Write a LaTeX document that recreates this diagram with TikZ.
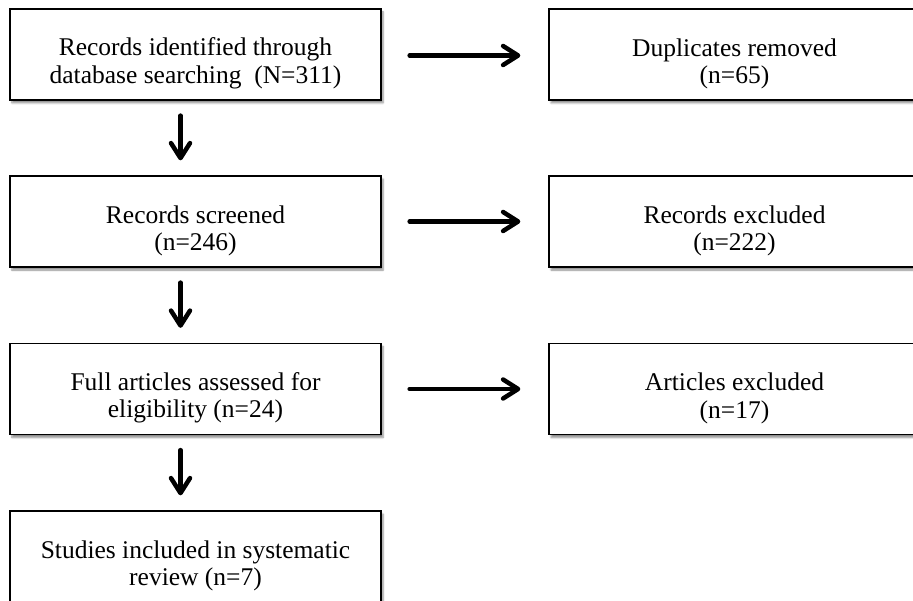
\documentclass[tikz,border=0pt]{standalone}
\usepackage{fontspec}
\setmainfont{Liberation Serif}
\usetikzlibrary{arrows.meta,shadows.blur}

% the text sits low in every box
\newcommand{\lowtext}{\rule{0pt}{36pt}}

\begin{document}
\begin{tikzpicture}[x=1pt,y=-1pt,
    box/.style={draw, line width=1.3pt, fill=white, minimum width=371pt,
      minimum height=91pt, align=center, inner sep=0pt,
      font=\fontsize{25.5}{27.5}\selectfont,
      blur shadow={shadow xshift=2pt, shadow yshift=-3pt,
        shadow blur steps=6, shadow blur extra rounding=0pt, shadow opacity=45}},
    flow/.style={line width=4.5pt, line cap=round,
      -{Straight Barb[length=15pt, width=19pt, round]}}]

    % page frame, as the reference is cropped right and bottom
    \useasboundingbox (0,0) rectangle (913,601);
    \clip (0,0) rectangle (913,601);

    % main column
    \node[box] (ident)  at (195.5,54.5) {\lowtext Records identified through\\database searching\ \ (N=311)};
    \node[box] (screen) at (195.5,221.5) {\lowtext Records screened\\(n=246)};
    \node[box] (full)   at (195.5,389) {\lowtext Full articles assessed for\\eligibility (n=24)};
    \node[box] (incl)   at (195.5,556.5) {\lowtext Studies included in systematic\\review (n=7)};

    % exclusions on the right
    \node[box] (dupl)   at (734.5,54.5) {\lowtext Duplicates removed\\(n=65)};
    \node[box] (recex)  at (734.5,221.5) {\lowtext Records excluded\\(n=222)};
    \node[box] (artex)  at (734.5,389) {\lowtext Articles excluded\\(n=17)};

    % down the column
    \draw[flow, shorten <=15pt, shorten >=15pt] ([xshift=-15pt]ident.south) -- ([xshift=-15pt]screen.north);
    \draw[flow, shorten <=15pt, shorten >=15pt] ([xshift=-15pt]screen.south) -- ([xshift=-15pt]full.north);
    \draw[flow, shorten <=15pt, shorten >=15pt] ([xshift=-15pt]full.south) -- ([xshift=-15pt]incl.north);

    % across to the exclusions
    \draw[flow, shorten <=28pt, shorten >=28pt] ([yshift=-1pt]ident.east) -- ([yshift=-1pt]dupl.west);
    \draw[flow, shorten <=28pt, shorten >=28pt] (screen.east) -- (recex.west);
    \draw[flow, shorten <=28pt, shorten >=28pt] (full.east) -- (artex.west);
\end{tikzpicture}
\end{document}
